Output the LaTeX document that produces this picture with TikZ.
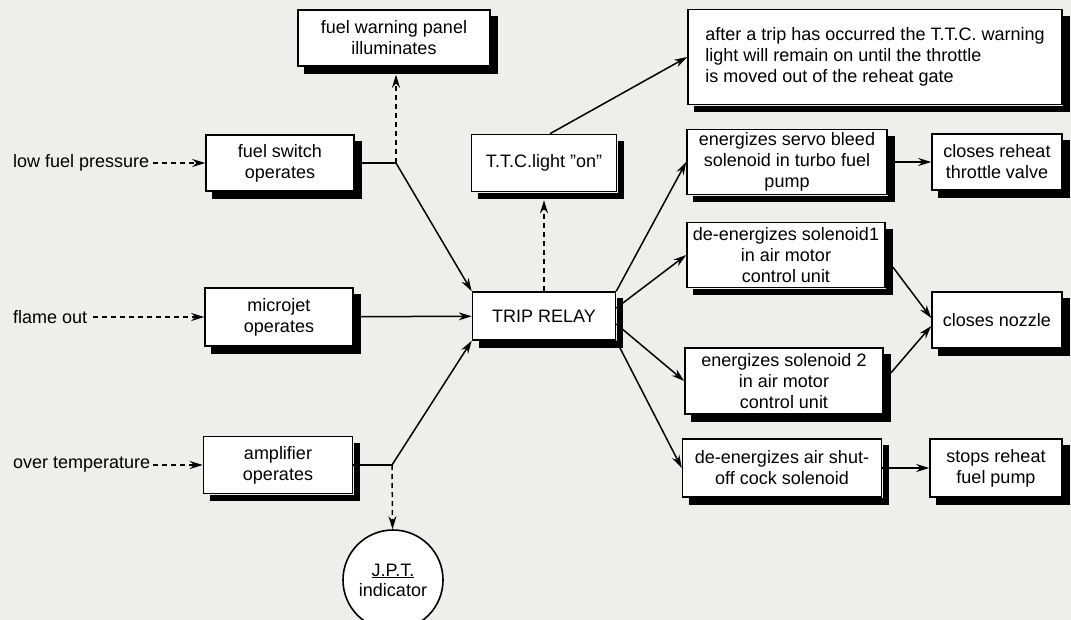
\documentclass[tikz,border=0pt]{standalone}
\usepackage{fontspec}
\setmainfont{Liberation Sans}
\usetikzlibrary{arrows.meta,positioning}
\definecolor{paper}{RGB}{238,238,235}

\begin{document}
\begin{tikzpicture}[x=1pt,y=-1pt,
  blk/.style={draw, line width=1.6pt, fill=white, align=center, inner sep=2pt,
    font=\fontsize{18}{21}\selectfont},
  shd/.style={line width=1.3pt, line join=miter},
  inp/.style={anchor=west, inner sep=0pt, font=\fontsize{18}{21}\selectfont},
  arr/.style={-{Stealth[length=13pt,width=8pt]}, line width=1.5pt},
  darr/.style={arr, dash pattern=on 5pt off 4pt},
  ln/.style={line width=1.5pt}
]
\useasboundingbox (0,0) rectangle (1071,620);
\fill[paper] (0,0) rectangle (1071,620);

% left column
\node[blk, minimum width=192pt, minimum height=56pt] (fuelwarn) at (394,38) {fuel warning panel\\illuminates};
\node[blk, minimum width=148pt, minimum height=56pt] (fuelsw) at (280,163) {fuel switch\\operates};
\node[blk, minimum width=148pt, minimum height=58pt] (microjet) at (279,317) {microjet\\operates};
\node[blk, minimum width=149pt, minimum height=57pt] (ampl) at (278,465) {amplifier\\operates};
\node[draw, circle, line width=1.6pt, fill=white, minimum size=100pt, align=center,
  font=\fontsize{18}{20}\selectfont] (jpt) at (393,580) {\underline{J.P.T.}\\indicator};

\node[inp] (lowfuel) at (13,163) {low fuel pressure};
\node[inp] (flame) at (13,317) {flame out};
\node[inp] (overtemp) at (13,465) {over temperature};

% middle
\node[blk, minimum width=145pt, minimum height=57pt] (ttc) at (544,163) {T.T.C.light ''on''};
\node[blk, minimum width=143pt, minimum height=48pt] (trip) at (544,316) {TRIP RELAY};

% right columns
\node[blk, minimum width=374pt, minimum height=95pt, align=left] (aftertrip) at (875,57)
  {after a trip has occurred the T.T.C. warning\\light will remain on until the throttle\\is moved out of the reheat gate};
\node[blk, minimum width=200pt, minimum height=65pt] (servo) at (787,162) {energizes servo bleed\\solenoid in turbo fuel\\pump};
\node[blk, minimum width=130pt, minimum height=56pt] (throttle) at (997,162) {closes reheat\\throttle valve};
\node[blk, minimum width=198pt, minimum height=65pt] (sol1) at (786,255) {de-energizes solenoid1\\in air motor\\control unit};
\node[blk, minimum width=130pt, minimum height=56pt] (nozzle) at (997,320) {closes nozzle};
\node[blk, minimum width=198pt, minimum height=66pt] (sol2) at (784,381) {energizes solenoid 2\\in air motor\\control unit};
\node[blk, minimum width=199pt, minimum height=58pt] (shutoff) at (782,468) {de-energizes air shut-\\off cock solenoid};
\node[blk, minimum width=132pt, minimum height=58pt] (stopspump) at (996,468) {stops reheat\\fuel pump};

% shadows along the lower and right sides, built from thin strokes
\foreach \n in {fuelwarn,fuelsw,microjet,ampl,ttc,trip,aftertrip,servo,throttle,sol1,nozzle,sol2,shutoff,stopspump}
  \foreach \d in {1.2,2.2,3.2,4.2,5.2,6.2}
    \draw[shd] ([shift={(7pt,-\d pt)}]\n.south west) -- ([shift={(\d pt,-\d pt)}]\n.south east)
      -- ([shift={(\d pt,-7pt)}]\n.north east);

\coordinate (j1) at (396,163);
\coordinate (j2) at (392,465);

% inputs
\draw[darr, shorten <=4pt] (lowfuel) -- (fuelsw);
\draw[darr, shorten <=6pt] (flame) -- (microjet);
\draw[darr, shorten <=3pt] (overtemp) -- (ampl);

% into the relay
\draw[ln] (fuelsw) -- (j1);
\draw[darr] (j1) -- ([yshift=-8pt]j1 |- fuelwarn.south);
\draw[arr] (j1) -- (trip.north west);
\draw[arr] (microjet) -- (trip);
\draw[ln] (ampl) -- (j2);
\draw[darr] (j2) -- (jpt);
\draw[arr] (j2) -- (trip.south west);

% out of the relay
\draw[darr] (trip) -- ([yshift=-8pt]ttc.south);
\draw[arr] ([xshift=6pt]ttc.north) -- (aftertrip.west);
\draw[arr] (trip.north east) -- (servo.west);
\draw[arr] ([yshift=8pt]trip.east) -- (sol1.west);
\draw[arr] ([yshift=-8pt]trip.east) -- (sol2.west);
\draw[arr] (trip.south east) -- (shutoff.west);

\draw[arr] (servo) -- (throttle);
\draw[arr] ([xshift=7pt,yshift=-12pt]sol1.east) -- ([yshift=2pt]nozzle.west);
\draw[arr] ([xshift=7pt,yshift=8pt]sol2.east) -- ([yshift=-6pt]nozzle.west);
\draw[arr] (shutoff) -- (stopspump);
\end{tikzpicture}
\end{document}
